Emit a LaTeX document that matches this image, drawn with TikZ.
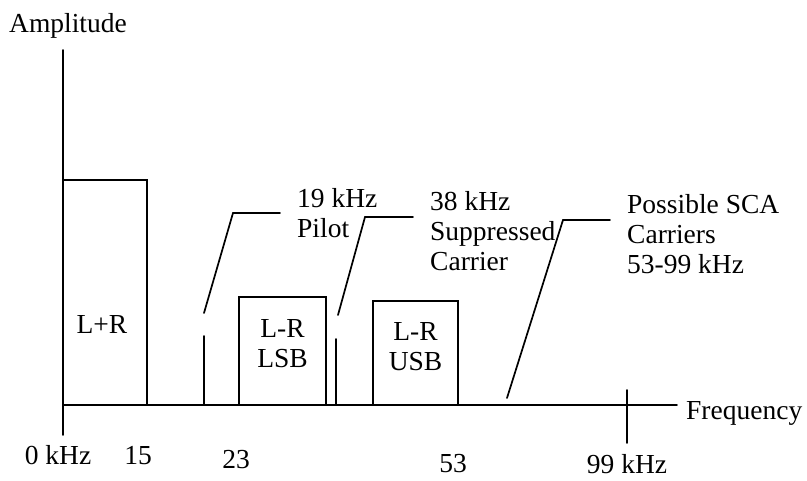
\documentclass[tikz,border=0pt]{standalone}
\usepackage{fontspec}
\setmainfont{Liberation Serif}
\begin{document}
\begin{tikzpicture}[x=1pt,y=-1pt,
  ln/.style={line width=1.7pt,line cap=round,line join=miter},
  lbl/.style={inner sep=0pt,font=\fontsize{27.5}{30}\selectfont},
  mlbl/.style={lbl,align=left,anchor=north west},
  blbl/.style={lbl,align=center,anchor=north}]
\useasboundingbox (0,0) rectangle (807,480);
% axes
\coordinate (vtop) at (63,50);
\coordinate (vbot) at (63,435);
\coordinate (hstart) at (63,405);
\coordinate (hend) at (677,405);
\draw[ln] (vtop) -- (vbot);
\draw[ln] (hstart) -- (hend);
\node[lbl,anchor=base west] (amp) at (9,32) {Amplitude};
\node[lbl,anchor=base west] (freq) at (686,419) {Frequency};
% bands
\draw[ln] (63,405) |- (147,180) coordinate (lrtr) -- (147,405);
\node[lbl,anchor=base] (lr) at (102,333) {L+R};
\draw[ln] (239,405) |- (326,297) coordinate (lsbtr) -- (326,405);
\node[blbl] (lsb) at (282.5,319) {L-R\\LSB};
\draw[ln] (373,405) |- (458,301) coordinate (usbtr) -- (458,405);
\node[blbl] (usb) at (415.5,322) {L-R\\USB};
% pilot
\coordinate (p0) at (204,405);
\coordinate (p1) at (204,336);
\draw[ln] (p0) -- (p1);
\coordinate (pa) at (204,313);
\coordinate (pb) at (233,213);
\coordinate (pc) at (280,213);
\draw[ln] (pa) -- (pb) -- (pc);
\node[mlbl] (pilot) at (297,188) {19 kHz\\Pilot};
% suppressed carrier
\coordinate (c0) at (336,405);
\coordinate (c1) at (336,339);
\draw[ln] (c0) -- (c1);
\coordinate (ca) at (338,315);
\coordinate (cb) at (365,217);
\coordinate (cc) at (413,217);
\draw[ln] (ca) -- (cb) -- (cc);
\node[mlbl] (carrier) at (430,191) {38 kHz\\Suppressed\\Carrier};
% SCA
\coordinate (sa) at (507,398);
\coordinate (sb) at (563,220);
\coordinate (sc) at (610,220);
\draw[ln] (sa) -- (sb) -- (sc);
\node[mlbl] (sca) at (627,194) {Possible SCA\\Carriers\\53-99 kHz};
% 99 kHz tick
\coordinate (t0) at (627,390);
\coordinate (t1) at (627,443);
\draw[ln] (t0) -- (t1);
% frequency labels
\node[lbl,anchor=base] (f0) at (58,464) {0 kHz};
\node[lbl,anchor=base] (f15) at (138,464) {15};
\node[lbl,anchor=base] (f23) at (236,468) {23};
\node[lbl,anchor=base] (f53) at (453,472) {53};
\node[lbl,anchor=base] (f99) at (627,473) {99 kHz};
\end{tikzpicture}
\end{document}
